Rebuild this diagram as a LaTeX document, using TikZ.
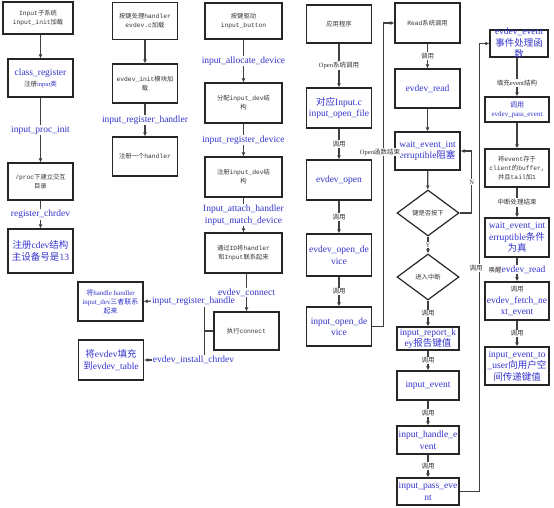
\documentclass[tikz,border=0pt]{standalone}
\usepackage{fontspec}
\setmainfont{Liberation Serif}
\setmonofont{Liberation Mono}
\newfontfamily\cjk{Noto Sans CJK SC}
\usepackage{tikz}
\usetikzlibrary{shapes.geometric,arrows.meta}
\definecolor{fnblue}{RGB}{51,51,204}
\newcommand{\zh}[1]{{\cjk #1}}
\tikzset{
  box/.style={draw=black!85,line width=1.2pt,align=center,inner sep=1pt,
              minimum width=65pt,minimum height=38pt},
  dbox/.style={draw=black!85,line width=1.2pt,diamond,aspect=1.35,inner sep=0pt,
               minimum width=62pt,minimum height=46pt},
  note/.style={font=\ttfamily\fontsize{6.3}{9}\selectfont,text=black!80},
  small/.style={font=\fontsize{6.5}{8}\selectfont,text=black!80},
  fn/.style={font=\fontsize{9.5}{11.5}\selectfont,text=fnblue,align=center},
  sfn/.style={font=\fontsize{7}{9}\selectfont,text=fnblue,align=center},
  lbl/.style={fill=white,inner sep=1pt},
  ln/.style={line width=1.2pt,draw=black!75},
  arr/.style={ln,-{Latex[length=4pt,width=4pt]}},
}
\begin{document}
\begin{tikzpicture}[x=1pt,y=-1pt]
\useasboundingbox (0,0) rectangle (554,508);
% input subsystem
\node[box,note,minimum width=70pt,minimum height=32pt] (init) at (38,18) {Input\zh{子系统}\\input\_init\zh{加载}};
\node[box] (clsreg) at (40.5,78) {{\fontsize{9.5}{11}\selectfont\color{fnblue}class\_register}\\[-1pt]{\small\fontsize{6.5}{8}\selectfont\color{black!80}\zh{注册}\textcolor{fnblue}{input\zh{类}}}};
\node[box,note,minimum height=37pt] (proc) at (40.5,181.5) {/proc\zh{下建立交互}\\\zh{目录}};
\node[box,fn,minimum height=44pt] (cdev) at (40.5,251) {\zh{注册}cdev\zh{结构}\\\zh{主设备号是}13};
\draw[arr] (init.south -| clsreg) -- (clsreg);
\draw[arr] (clsreg) -- (proc) node[midway,lbl,fn] {input\_proc\_init};
\draw[arr] (proc) -- (cdev) node[midway,lbl,fn] {register\_chrdev};
% evdev handler
\node[box,note,minimum height=37pt] (evdevc) at (145,21) {\zh{按键处理}handler\\evdev.c\zh{加载}};
\node[box,note,minimum height=39pt] (evinit) at (145,83.5) {evdev\_init\zh{模块加}\\\zh{载}};
\node[box,note,minimum height=39pt] (reghdl) at (145,156.5) {\zh{注册一个}handler};
\draw[arr] (evdevc) -- (evinit);
\draw[arr] (evinit) -- (reghdl) node[midway,lbl,fn] {input\_register\_handler};
% key driver
\node[box,note,minimum width=77pt,minimum height=36pt] (button) at (243.5,21) {\zh{按键驱动}\\input\_button};
\node[box,note,minimum width=77pt,minimum height=40pt] (alloc) at (243.5,103) {\zh{分配}input\_dev\zh{结}\\\zh{构}};
\node[box,note,minimum width=77pt,minimum height=40pt] (regdev) at (243.5,177) {\zh{注册}input\_dev\zh{结}\\\zh{构}};
\node[box,note,minimum width=77pt,minimum height=40pt] (match) at (243.5,253) {\zh{通过}ID\zh{将}handler\\\zh{和}Input\zh{联系起来}};
\node[box,note,minimum height=38pt] (conn) at (246.5,331) {\zh{执行}connect};
\draw[arr] (button) -- (alloc) node[midway,lbl,fn] {input\_allocate\_device};
\draw[arr] (alloc) -- (regdev) node[midway,lbl,fn] {input\_register\_device};
\draw[arr] (regdev) -- (match) node[midway,lbl,fn] {Input\_attach\_handler\\input\_match\_device};
\draw[arr] (match.south -| conn) -- (conn) node[midway,lbl,fn] {evdev\_connect};
\node[box,sfn,minimum height=39pt] (bind) at (110.5,301.5) {\zh{将}handle handler\\input\_dev\zh{三者联系}\\\zh{起来}};
\node[box,fn,minimum height=40pt] (table) at (111,360) {\zh{将}evdev\zh{填充}\\\zh{到}evdev\_table};
\node[fn,inner sep=1pt] (rhdl) at (193.5,301) {input\_register\_handle};
\node[fn,inner sep=1pt] (ichr) at (193.5,360) {evdev\_install\_chrdev};
\draw[ln] (conn.west) -- ++(-9,0) coordinate (bar);
\draw[ln] (bar) -- (bar |- rhdl.south);
\draw[ln] (bar) -- (bar |- ichr.north);
\draw[arr] (rhdl.west) -- (bind.east);
\draw[arr] (ichr.west) -- (table.east);
% open path
\node[box,note,minimum height=38pt] (app) at (339,24) {\zh{应用程序}};
\node[box,fn,minimum height=40pt] (openfile) at (339,108) {\zh{对应}Input.c\\input\_open\_file};
\node[box,fn,minimum height=40pt] (evopen) at (339,180) {evdev\_open};
\node[box,fn,minimum height=42pt] (evopendev) at (339,255) {evdev\_open\_de\\vice};
\node[box,fn,minimum height=39pt] (inopendev) at (339,326.5) {input\_open\_de\\vice};
\draw[arr] (app) -- (openfile) node[midway,lbl,small] {Open\zh{系统调用}};
\draw[arr] (openfile) -- (evopen) node[midway,lbl,small] {\zh{调用}};
\draw[arr] (evopen) -- (evopendev) node[midway,lbl,small] {\zh{调用}};
\draw[arr] (evopendev) -- (inopendev) node[midway,lbl,small] {\zh{调用}};
% read path
\node[box,note,minimum height=40pt] (read) at (427.5,23) {Read\zh{系统调用}};
\node[box,fn,minimum height=39pt] (evread) at (427.5,88.5) {evdev\_read};
\node[box,fn,minimum height=38pt] (wait) at (427.5,151) {wait\_event\_int\\erruptible\zh{阻塞}};
\node[dbox,note] (key) at (428,213) {\zh{键是否按下}};
\node[dbox,note] (irq) at (428,277) {\zh{进入中断}};
\node[box,fn,minimum width=62pt,minimum height=23pt,inner sep=0pt] (report) at (428,338.5) {input\_report\_k\\ey\zh{报告键值}};
\node[box,fn,minimum width=62pt,minimum height=29pt] (inevent) at (428,385.5) {input\_event};
\node[box,fn,minimum width=62pt,minimum height=28pt] (handle) at (428,440) {input\_handle\_e\\vent};
\node[box,fn,minimum width=62pt,minimum height=27pt] (pass) at (428,491.5) {input\_pass\_eve\\nt};
\draw[arr] (read) -- (evread) node[midway,lbl,small] {\zh{调用}};
\draw[arr] (evread) -- (wait);
\draw[arr] (wait) -- (key);
\draw[arr] (key.east) -- ++(12,0) |- (wait.east) node[pos=0.25,lbl,small] {N};
\draw[arr] (key) -- (irq) node[midway,lbl,small] {Y};
\draw[arr] (irq) -- (report) node[midway,lbl,small] {\zh{调用}};
\draw[arr] (report) -- (inevent) node[midway,lbl,small] {\zh{调用}};
\draw[arr] (inevent) -- (handle) node[midway,lbl,small] {\zh{调用}};
\draw[arr] (handle) -- (pass) node[midway,lbl,small] {\zh{调用}};
\draw[arr] (inopendev.east) -- ++(11,0) |- (read.west);
\node[small,lbl] (openend) at (380,152) {Open\zh{函数结束}};
% event handler
\node[box,minimum width=58pt,minimum height=27pt] (evevent) at (519,43.5) {};
\node[fn] at (evevent) {evdev\_event\\\zh{事件处理函}\\\zh{数}};
\node[box,sfn,minimum width=64pt,minimum height=25pt] (evpass) at (517,109.5) {\zh{调用}\\evdev\_pass\_event};
\node[box,note,minimum width=64pt,minimum height=38pt] (buffer) at (517,168) {\zh{将}event\zh{存于}\\client\zh{的}buffer,\\\zh{并且}tail\zh{加}1};
\node[box,fn,minimum width=64pt,minimum height=39pt] (waitok) at (517,237.5) {wait\_event\_int\\erruptible\zh{条件}\\\zh{为真}};
\node[box,fn,minimum width=64pt,minimum height=38pt] (fetch) at (517,301) {{\color{black!80}\fontsize{6.5}{8}\selectfont\zh{调用}}\\evdev\_fetch\_ne\\xt\_event};
\node[box,fn,minimum width=64pt,minimum height=38pt] (touser) at (517,366) {input\_event\_to\\\_user\zh{向用户空}\\\zh{间传递键值}};
\draw[arr] (pass.east) -- ++(20,0) |- (evevent.west);
\node[small,lbl] (callnote) at (476,268) {\zh{调用}};
\draw[arr] (evevent.south -| evpass) -- (evpass) node[pos=0.65,lbl,small] {\zh{填充}event\zh{结构}};
\draw[arr] (evpass) -- (buffer);
\draw[arr] (buffer) -- (waitok) node[midway,lbl,small] {\zh{中断处理结束}};
\draw[arr] (waitok) -- (fetch) node[midway,lbl,small] {\zh{唤醒}{\fontsize{9.5}{11}\selectfont\color{fnblue}evdev\_read}};
\draw[arr] (fetch) -- (touser) node[midway,lbl,small] {\zh{调用}};
\end{tikzpicture}
\end{document}
